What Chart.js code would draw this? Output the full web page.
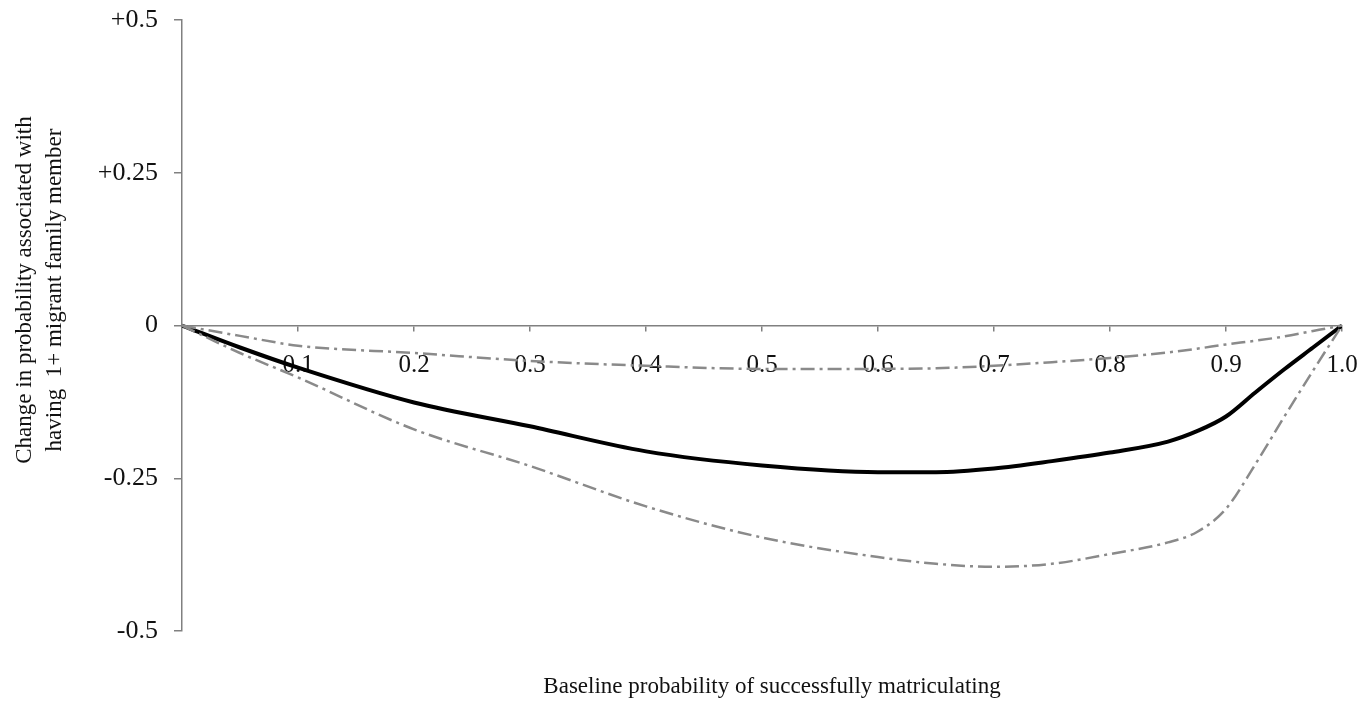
<!DOCTYPE html>
<html>
<head>
<meta charset="utf-8">
<script src="https://cdn.jsdelivr.net/npm/chart.js@4/dist/chart.umd.min.js"></script>
<style>
  html, body { margin: 0; padding: 0; background: #ffffff; }
  #wrap { width: 1372px; height: 704px; }
</style>
</head>
<body>
<div id="wrap"><canvas id="c" width="1372" height="704"></canvas></div>
<script>
// ---- data ----
const baseline = [0, 0.05, 0.1, 0.2, 0.3, 0.4, 0.5, 0.6, 0.65, 0.7, 0.75, 0.8, 0.85, 0.875, 0.9, 0.925, 0.95, 0.975, 1.0];
const estimate = [0, -0.036, -0.069, -0.126, -0.165, -0.206, -0.229, -0.240, -0.240, -0.234, -0.222, -0.208, -0.190, -0.173, -0.149, -0.110, -0.072, -0.036, 0];
const upperBound = [0, -0.017, -0.033, -0.045, -0.058, -0.066, -0.071, -0.071, -0.070, -0.066, -0.060, -0.053, -0.044, -0.038, -0.031, -0.025, -0.018, -0.009, 0];
const lowerBound = [0, -0.045, -0.085, -0.170, -0.230, -0.296, -0.347, -0.379, -0.390, -0.395, -0.390, -0.374, -0.355, -0.338, -0.300, -0.228, -0.150, -0.074, 0];

const xTickValues = [0.1, 0.2, 0.3, 0.4, 0.5, 0.6, 0.7, 0.8, 0.9, 1.0];
const xTickLabels = ['0.1', '0.2', '0.3', '0.4', '0.5', '0.6', '0.7', '0.8', '0.9', '1.0'];
const yTickValues = [-0.5, -0.25, 0, 0.25, 0.5];
const yTickLabels = ['-0.5', '-0.25', '0', '+0.25', '+0.5'];

const xTitle = 'Baseline probability of successfully matriculating';
const yTitle = ['Change in probability associated with', 'having  1+ migrant family member'];

// ---- chart ----
const SERIF = '"Liberation Serif", "Times New Roman", serif';
const toPoints = (ys) => baseline.map((x, i) => ({ x: x, y: ys[i] }));

const titlesPlugin = {
  id: 'titles',
  afterDraw(chart) {
    const ctx = chart.ctx;
    ctx.save();
    ctx.fillStyle = '#111111';
    ctx.font = '23px ' + SERIF;
    ctx.textAlign = 'center';
    ctx.textBaseline = 'middle';
    ctx.fillText(xTitle, 772, 687);
    ctx.translate(0, 290);
    ctx.rotate(-Math.PI / 2);
    ctx.fillText(yTitle[0], 0, 25);
    ctx.fillText(yTitle[1], 0, 55);
    ctx.restore();
  }
};

const zeroPadding = (scale) => {
  scale.paddingTop = 0;
  scale.paddingBottom = 0;
  scale.paddingLeft = 0;
  scale.paddingRight = 0;
};

const grayDash = [14, 5, 3, 5];

new Chart(document.getElementById('c'), {
  type: 'line',
  data: {
    datasets: [
      {
        label: 'Upper bound',
        data: toPoints(upperBound),
        borderColor: '#8a8a8a',
        borderWidth: 2.5,
        borderDash: grayDash,
        pointRadius: 0,
        cubicInterpolationMode: 'monotone',
        fill: false
      },
      {
        label: 'Lower bound',
        data: toPoints(lowerBound),
        borderColor: '#8a8a8a',
        borderWidth: 2.5,
        borderDash: grayDash,
        pointRadius: 0,
        cubicInterpolationMode: 'monotone',
        fill: false
      },
      {
        label: 'Estimated change',
        data: toPoints(estimate),
        borderColor: '#000000',
        borderWidth: 4,
        pointRadius: 0,
        cubicInterpolationMode: 'monotone',
        fill: false
      }
    ]
  },
  options: {
    responsive: false,
    animation: false,
    layout: { padding: { left: 0, top: 20, right: 30, bottom: 73 } },
    plugins: {
      legend: { display: false },
      tooltip: { enabled: false }
    },
    scales: {
      x: {
        type: 'linear',
        min: 0,
        max: 1,
        position: { y: 0 },
        afterBuildTicks(scale) { scale.ticks = xTickValues.map(v => ({ value: v })); },
        afterFit(scale) { zeroPadding(scale); },
        ticks: {
          autoSkip: false,
          maxRotation: 0,
          padding: 20,
          color: '#111111',
          font: { family: SERIF, size: 25 },
          callback(value) {
            const i = xTickValues.findIndex(v => Math.abs(v - value) < 1e-9);
            return i >= 0 ? xTickLabels[i] : '';
          }
        },
        grid: { drawOnChartArea: false, drawTicks: true, tickLength: 5, color: '#808080', lineWidth: 1.5 },
        border: { display: true, color: '#808080', width: 1.5 }
      },
      y: {
        type: 'linear',
        min: -0.5,
        max: 0.5,
        afterBuildTicks(scale) { scale.ticks = yTickValues.map(v => ({ value: v })); },
        afterFit(scale) { scale.width = 182; zeroPadding(scale); },
        ticks: {
          autoSkip: false,
          padding: 16,
          color: '#111111',
          font: { family: SERIF, size: 26 },
          callback(value) {
            const i = yTickValues.findIndex(v => Math.abs(v - value) < 1e-9);
            return i >= 0 ? yTickLabels[i] : '';
          }
        },
        grid: { drawOnChartArea: false, drawTicks: true, tickLength: 8, color: '#808080', lineWidth: 1.5 },
        border: { display: true, color: '#808080', width: 1.5 }
      }
    }
  },
  plugins: [titlesPlugin]
});
</script>
</body>
</html>
